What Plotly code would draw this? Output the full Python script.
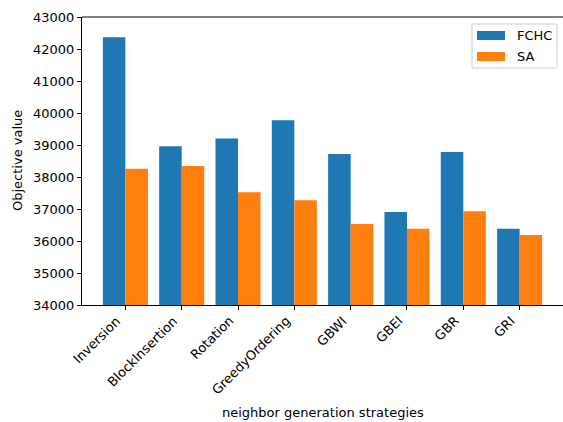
import plotly.graph_objects as go

strategies = ["Inversion", "BlockInsertion", "Rotation", "GreedyOrdering",
              "GBWI", "GBEI", "GBR", "GRI"]
fchc = [42370, 38960, 39200, 39770, 38720, 36910, 38780, 36380]
sa = [38260, 38340, 37520, 37270, 36530, 36380, 36930, 36190]
y_ticks = list(range(34000, 43001, 1000))

series = [("FCHC", fchc, "#1f77b4"), ("SA", sa, "#ff7f0e")]

font = dict(family="DejaVu Sans", size=13, color="#000000")

fig = go.Figure()
for name, vals, color in series:
    fig.add_trace(go.Bar(name=name, x=list(range(len(strategies))), y=vals,
                         marker=dict(color=color, line=dict(width=0)),
                         showlegend=False))

fig.update_layout(
    width=563, height=422,
    margin=dict(l=82, r=0, t=17, b=117),
    paper_bgcolor="white", plot_bgcolor="white",
    font=font,
    barmode="group", bargap=0.2, bargroupgap=0,
    xaxis=dict(
        range=[-0.77, 7.77],
        tickmode="array", tickvals=list(range(len(strategies))),
        showticklabels=False, ticks="outside", ticklen=4, tickcolor="black",
        showline=True, linecolor="black", linewidth=1,
        showgrid=False, zeroline=False,
    ),
    yaxis=dict(
        range=[34000, 43000],
        tickmode="array", tickvals=y_ticks, ticktext=[str(v) for v in y_ticks],
        ticks="outside", ticklen=4, tickcolor="black",
        tickfont=font,
        showline=True, linecolor="black", linewidth=1,
        showgrid=False, zeroline=False,
    ),
)

# top spine
fig.add_shape(type="line", xref="paper", yref="paper", x0=0, x1=1, y0=1, y1=1,
              line=dict(color="black", width=1))

# rotated category labels, right/top aligned under each tick
for i, label in enumerate(strategies):
    fig.add_annotation(xref="x", yref="paper", x=i, y=0, yshift=-7,
                       text=label, textangle=-45, showarrow=False,
                       xanchor="right", yanchor="top", borderpad=0, font=font)

# axis titles
fig.add_annotation(xref="paper", yref="paper", x=0.5, y=0, yshift=-107,
                   text="neighbor generation strategies", showarrow=False,
                   xanchor="center", yanchor="middle", borderpad=0, font=font)
fig.add_annotation(xref="paper", yref="paper", x=0, xshift=-65, y=0.5,
                   text="Objective value", textangle=-90, showarrow=False,
                   xanchor="center", yanchor="middle", borderpad=0, font=font)

# legend box with wide colour patches (pixel offsets converted to paper units)
plot_l, plot_r, plot_t, plot_b = 82, 563, 17, 305
def px(x):
    return (x - plot_l) / (plot_r - plot_l)
def py(y):
    return (plot_b - y) / (plot_b - plot_t)

fig.add_shape(type="rect", xref="paper", yref="paper",
              x0=px(472), x1=px(557), y0=py(24), y1=py(68),
              line=dict(color="#d0d0d0", width=1), fillcolor="rgba(255,255,255,0.8)")
for i, (name, vals, color) in enumerate(series):
    cy = 35.5 + i * 21
    fig.add_shape(type="rect", xref="paper", yref="paper",
                  x0=px(477), x1=px(505), y0=py(cy - 4.5), y1=py(cy + 4.5),
                  line=dict(width=0), fillcolor=color)
    fig.add_annotation(xref="paper", yref="paper", x=px(515), y=py(cy),
                       text=name, showarrow=False, xanchor="left", yanchor="middle",
                       font=font)

fig.write_html("out.html")
